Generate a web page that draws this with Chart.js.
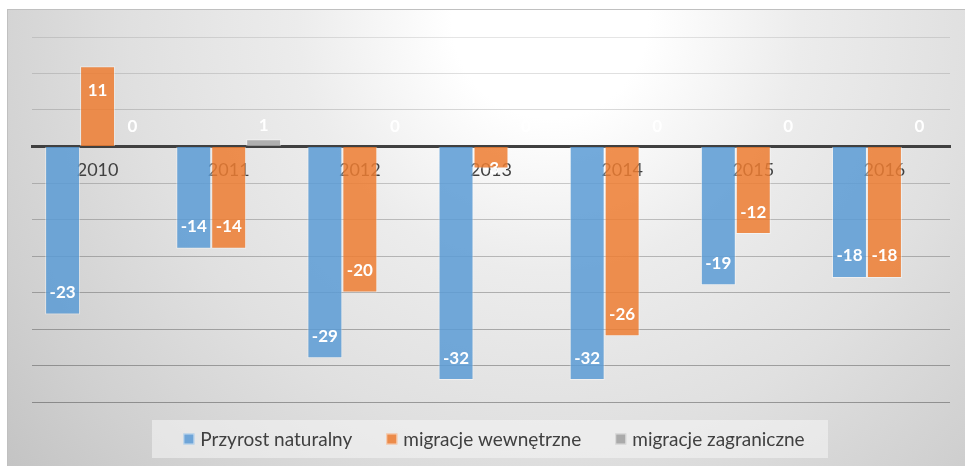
<!DOCTYPE html>
<html>
<head>
<meta charset="utf-8">
<script src="https://cdn.jsdelivr.net/npm/chart.js@4"></script>
<style>
  html, body { margin: 0; padding: 0; background: #fff; }
  #wrap { width: 965px; height: 466px; }
</style>
</head>
<body>
<div id="wrap"><canvas id="chart1"></canvas></div>
<script>
// dane
const years = ['2010', '2011', '2012', '2013', '2014', '2015', '2016'];
const przyrost = [-23, -14, -29, -32, -32, -19, -18];
const migWewn = [11, -14, -20, -3, -26, -12, -18];
const migZagr = [0, 1, 0, 0, 0, 0, 0];
const seriesNames = ['Przyrost naturalny', 'migracje wewnętrzne', 'migracje zagraniczne'];

const FONT = 'Lato, "Open Sans", sans-serif';

// tło z gradientem i ramka
const bgPlugin = {
    id: 'bg',
    beforeDraw(chart) {
        const ctx = chart.ctx;
        ctx.save();
        ctx.fillStyle = '#fff';
        ctx.fillRect(0, 0, chart.width, chart.height);
        const g = ctx.createRadialGradient(550, 20, 0, 550, 20, 700);
        g.addColorStop(0, '#ffffff');
        g.addColorStop(0.14, '#ffffff');
        g.addColorStop(0.36, '#ececec');
        g.addColorStop(0.6, '#e0e0e0');
        g.addColorStop(0.84, '#d0d0d0');
        g.addColorStop(1, '#c4c4c4');
        ctx.fillStyle = g;
        ctx.fillRect(7, 9, chart.width - 7, chart.height - 9);
        ctx.strokeStyle = '#c0c0c0';
        ctx.lineWidth = 1;
        ctx.strokeRect(7.5, 9.5, chart.width, chart.height);
        ctx.restore();
    }
};

// etykiety wartości na słupkach
const labelsPlugin = {
    id: 'valueLabels',
    afterDatasetsDraw(chart) {
        const ctx = chart.ctx;
        ctx.save();
        ctx.font = 'bold 17px ' + FONT;
        ctx.fillStyle = '#fff';
        ctx.textAlign = 'center';
        ctx.textBaseline = 'middle';
        chart.data.datasets.forEach((ds, i) => {
            const meta = chart.getDatasetMeta(i);
            meta.data.forEach((bar, j) => {
                const v = ds.data[j];
                const len = Math.abs(bar.base - bar.y);
                let y;
                if (len > 30) {
                    y = v > 0 ? bar.y + 24 : bar.y - 22;
                } else {
                    y = v >= 0 ? bar.base - 20 : bar.base + 22;
                }
                ctx.fillText(String(v), bar.x, y);
            });
        });
        ctx.restore();
    }
};

// legenda rysowana ręcznie
const legendPlugin = {
    id: 'customLegend',
    afterDraw(chart) {
        const ctx = chart.ctx;
        ctx.save();
        ctx.fillStyle = 'rgba(245,245,245,0.55)';
        ctx.fillRect(152, 420, 676, 38);
        ctx.font = '19px ' + FONT;
        ctx.textBaseline = 'middle';
        const box = 11, gapBox = 6, gapItem = 34, cy = 439;
        const items = chart.data.datasets.map(ds => ({
            text: ds.label, color: ds.legendColor, w: ctx.measureText(ds.label).width
        }));
        let total = items.reduce((s, it) => s + box + gapBox + it.w, 0) + gapItem * (items.length - 1);
        let x = 494 - total / 2;
        items.forEach(it => {
            ctx.fillStyle = it.color;
            ctx.fillRect(x, cy - box / 2, box, box);
            ctx.strokeStyle = 'rgba(255,255,255,0.6)';
            ctx.lineWidth = 1;
            ctx.strokeRect(x + 0.5, cy - box / 2 + 0.5, box - 1, box - 1);
            ctx.fillStyle = '#404040';
            ctx.fillText(it.text, x + box + gapBox, cy + 1);
            x += box + gapBox + it.w + gapItem;
        });
        ctx.restore();
    }
};

const data1 = {
    labels: years,
    datasets: [{
        label: seriesNames[0],
        data: przyrost,
        backgroundColor: 'rgba(91,155,213,0.85)',
        legendColor: '#6fa5d8',
        borderColor: 'rgba(255,255,255,0.45)',
        borderWidth: 1
    }, {
        label: seriesNames[1],
        data: migWewn,
        backgroundColor: 'rgba(237,125,49,0.85)',
        legendColor: '#ec8b4a',
        borderColor: 'rgba(255,255,255,0.45)',
        borderWidth: 1
    }, {
        label: seriesNames[2],
        data: migZagr,
        backgroundColor: 'rgba(165,165,165,0.85)',
        legendColor: '#aaaaaa',
        borderColor: 'rgba(255,255,255,0.45)',
        borderWidth: 1
    }]
};

const config1 = {
    type: 'bar',
    data: data1,
    options: {
        responsive: true,
        maintainAspectRatio: false,
        animation: false,
        devicePixelRatio: 1,
        layout: { padding: { left: 32, right: 15, top: 37, bottom: 64 } },
        datasets: { bar: { categoryPercentage: 0.8, barPercentage: 1.0 } },
        plugins: {
            legend: { display: false },
            tooltip: { enabled: false }
        },
        scales: {
            x: {
                position: { y: 0 },
                z: 1,
                grid: { display: false, drawTicks: false },
                border: { display: true, color: '#404040', width: 3 },
                ticks: { color: '#404040', font: { family: FONT, size: 18 }, padding: 13 }
            },
            y: {
                min: -35,
                max: 15,
                ticks: { display: false, stepSize: 5 },
                border: { display: false },
                grid: {
                    drawTicks: false,
                    color: c => {
                        const v = c.tick ? c.tick.value : 0;
                        const a = 0.1 + (15 - v) / 50 * 0.22;
                        return 'rgba(0,0,0,' + a.toFixed(3) + ')';
                    }
                },
                afterFit: s => { s.width = 0; }
            }
        }
    },
    plugins: [bgPlugin, labelsPlugin, legendPlugin]
};

const chart1 = new Chart(document.getElementById('chart1'), config1);
</script>
</body>
</html>
